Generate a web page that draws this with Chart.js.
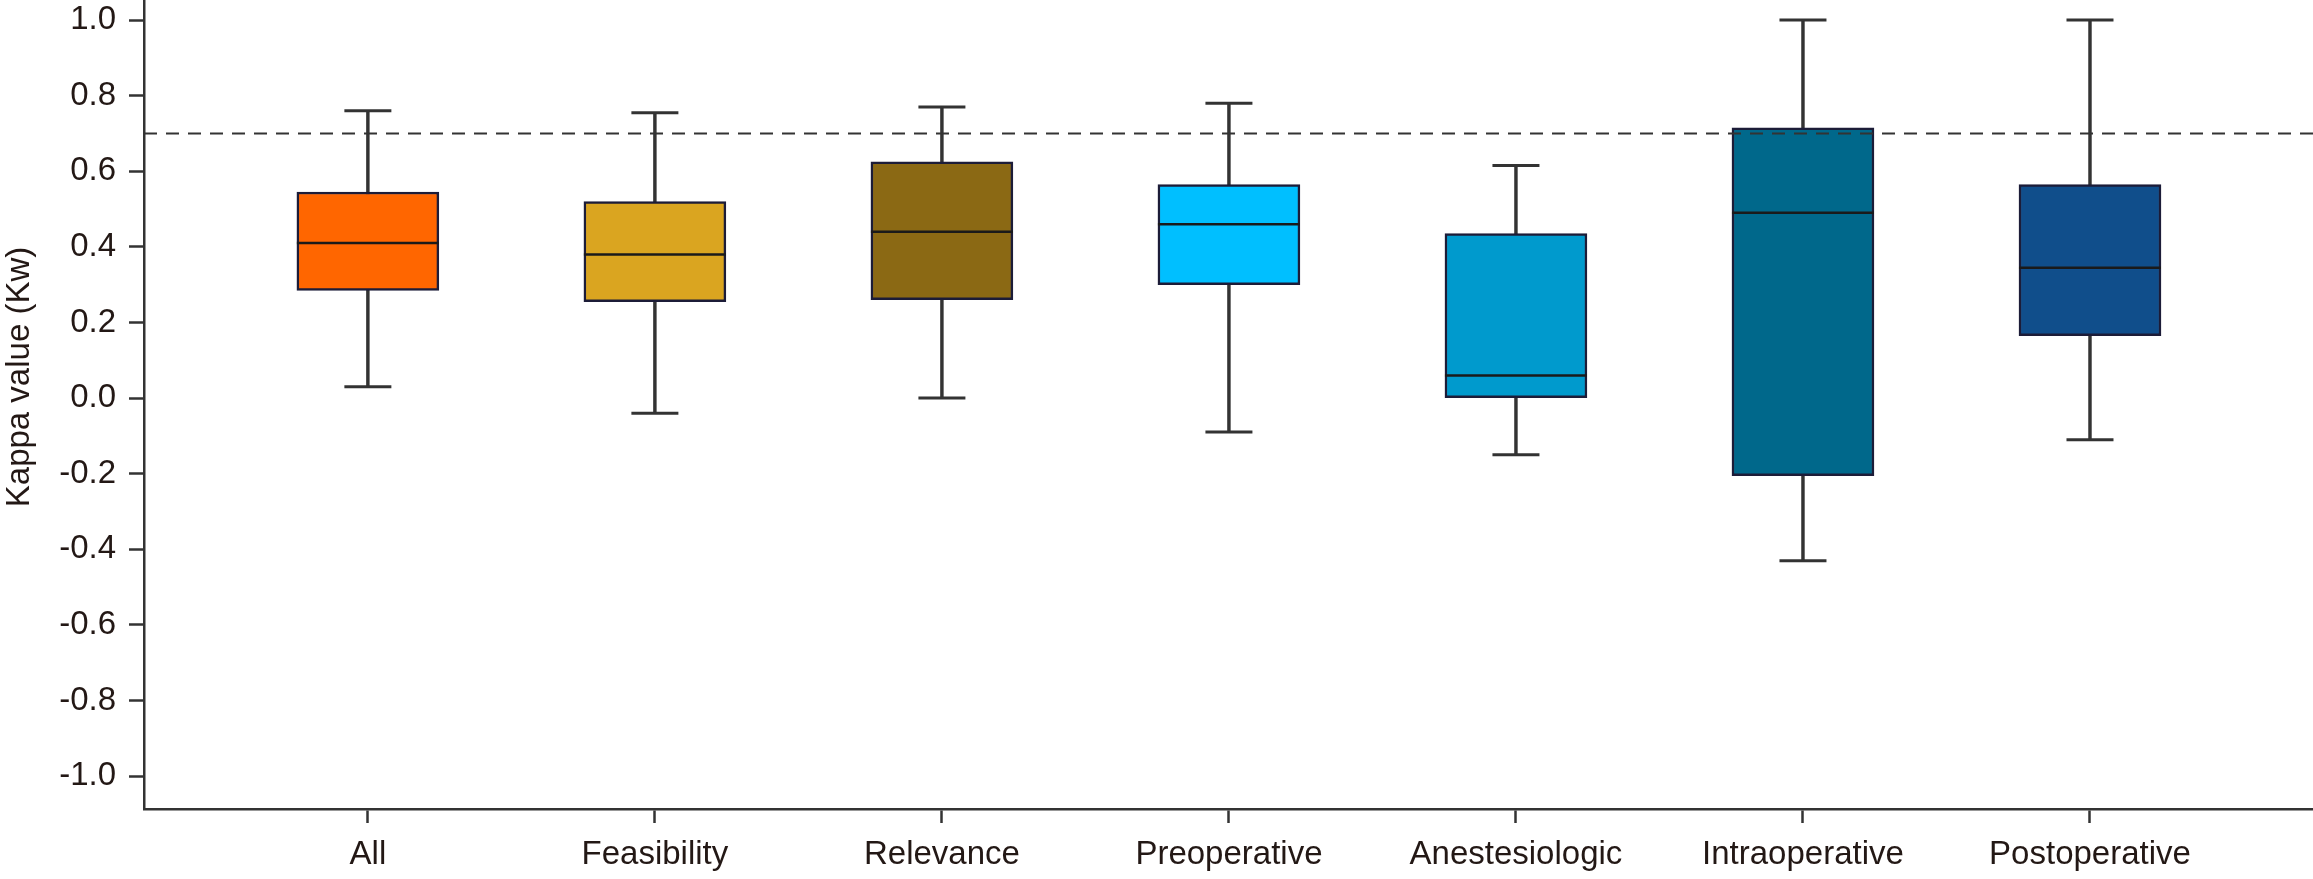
<!DOCTYPE html>
<html>
<head>
<meta charset="utf-8">
<script src="https://cdn.jsdelivr.net/npm/chart.js@4.4.0/dist/chart.umd.min.js"></script>
<style>
    html, body { margin: 0; padding: 0; background: #ffffff; }
    #wrap { width: 2313px; height: 879px; position: relative; }
</style>
</head>
<body>
<div id="wrap"><canvas id="myChart"></canvas></div>
<script>
    // values
    var categories = ["All", "Feasibility", "Relevance", "Preoperative", "Anestesiologic", "Intraoperative", "Postoperative"]
    var whiskerLow = [0.03, -0.04, 0.0, -0.09, -0.15, -0.43, -0.11]
    var quartile1 = [0.285, 0.255, 0.26, 0.30, 0.0, -0.205, 0.165]
    var medians = [0.41, 0.38, 0.44, 0.46, 0.06, 0.49, 0.345]
    var quartile3 = [0.545, 0.52, 0.625, 0.565, 0.435, 0.715, 0.565]
    var whiskerHigh = [0.76, 0.755, 0.77, 0.78, 0.615, 1.0, 1.0]
    var boxColors = ["#FF6600", "#DAA520", "#8B6914", "#00BFFF", "#009ACD", "#00688B", "#104E8B"]
    var yTickValues = [1.0, 0.8, 0.6, 0.4, 0.2, 0.0, -0.2, -0.4, -0.6, -0.8, -1.0]
    var yTickLabels = ["1.0", "0.8", "0.6", "0.4", "0.2", "0.0", "-0.2", "-0.4", "-0.6", "-0.8", "-1.0"]
    var cutoff = 0.7

    var xMin = 0.22, xMax = 7.777
    var yMin = -1.087, yMax = 1.053
    var ink = "#231815"
    var lineInk = "#333333"
    var font = { family: "'Liberation Sans', Arial, sans-serif", size: 33 }

    function pos(i) { return i + 1 }

    var whiskers = categories.map(function (c, i) { return { x: pos(i), y: [whiskerLow[i], whiskerHigh[i]] } })
    var boxes = categories.map(function (c, i) { return { x: pos(i), y: [quartile1[i], quartile3[i]] } })
    var medianPts = categories.map(function (c, i) { return { x: pos(i), y: medians[i] } })
    var capPts = []
    categories.forEach(function (c, i) {
        capPts.push({ x: pos(i), y: whiskerLow[i] })
        capPts.push({ x: pos(i), y: whiskerHigh[i] })
    })

    var ctx = document.getElementById("myChart").getContext("2d")
    var chart = new Chart(ctx, {
        type: "bar",
        data: {
            datasets: [
                {
                    type: "line",
                    data: [{ x: xMin, y: cutoff }, { x: xMax, y: cutoff }],
                    borderColor: lineInk,
                    borderWidth: 2,
                    borderDash: [13, 9],
                    pointRadius: 0,
                    order: 1
                },
                {
                    type: "scatter",
                    data: medianPts,
                    pointStyle: "line",
                    pointRadius: 71,
                    pointBorderWidth: 2.5,
                    pointBorderColor: "#1a1a1a",
                    order: 2
                },
                {
                    type: "scatter",
                    data: capPts,
                    pointStyle: "line",
                    pointRadius: 23.5,
                    pointBorderWidth: 3,
                    pointBorderColor: lineInk,
                    order: 2
                },
                {
                    type: "bar",
                    data: boxes,
                    grouped: false,
                    barThickness: 142,
                    backgroundColor: boxColors,
                    borderColor: "#1c1c38",
                    borderWidth: 2.5,
                    borderSkipped: false,
                    order: 3
                },
                {
                    type: "bar",
                    data: whiskers,
                    grouped: false,
                    barThickness: 2.8,
                    backgroundColor: lineInk,
                    borderWidth: 0,
                    order: 4
                }
            ]
        },
        options: {
            responsive: true,
            maintainAspectRatio: false,
            devicePixelRatio: 1,
            animation: false,
            events: [],
            layout: { padding: 0, autoPadding: false },
            plugins: {
                legend: { display: false },
                tooltip: { enabled: false }
            },
            scales: {
                x: {
                    type: "linear",
                    min: xMin,
                    max: xMax,
                    offset: false,
                    afterBuildTicks: function (scale) {
                        scale.ticks = categories.map(function (c, i) { return { value: pos(i) } })
                    },
                    afterFit: function (scale) {
                        scale.height = 70
                        scale.paddingLeft = 0
                        scale.paddingRight = 0
                    },
                    ticks: {
                        autoSkip: false,
                        maxRotation: 0,
                        padding: 12,
                        color: ink,
                        font: font,
                        callback: function (v) { return categories[v - 1] }
                    },
                    grid: {
                        display: true,
                        offset: false,
                        drawOnChartArea: false,
                        drawTicks: true,
                        tickLength: 14,
                        tickWidth: 2.5,
                        tickColor: lineInk
                    },
                    border: { display: true, color: lineInk, width: 2.5 }
                },
                y: {
                    type: "linear",
                    min: yMin,
                    max: yMax,
                    afterBuildTicks: function (scale) {
                        scale.ticks = yTickValues.map(function (v) { return { value: v } })
                    },
                    afterFit: function (scale) {
                        scale.width = 144
                        scale.paddingTop = 0
                        scale.paddingBottom = 0
                    },
                    ticks: {
                        autoSkip: false,
                        padding: 13,
                        color: ink,
                        font: font,
                        callback: function (v) { return yTickLabels[yTickValues.indexOf(v)] }
                    },
                    grid: {
                        display: true,
                        drawOnChartArea: false,
                        drawTicks: true,
                        tickLength: 15,
                        tickWidth: 2.5,
                        tickColor: lineInk
                    },
                    border: { display: true, color: lineInk, width: 2.5 },
                    title: {
                        display: true,
                        // leading spaces nudge the rotated title up to where the original sits
                        text: "      Kappa value (Kw)",
                        color: ink,
                        font: font,
                        padding: 0
                    }
                }
            }
        }
    })
</script>
</body>
</html>
